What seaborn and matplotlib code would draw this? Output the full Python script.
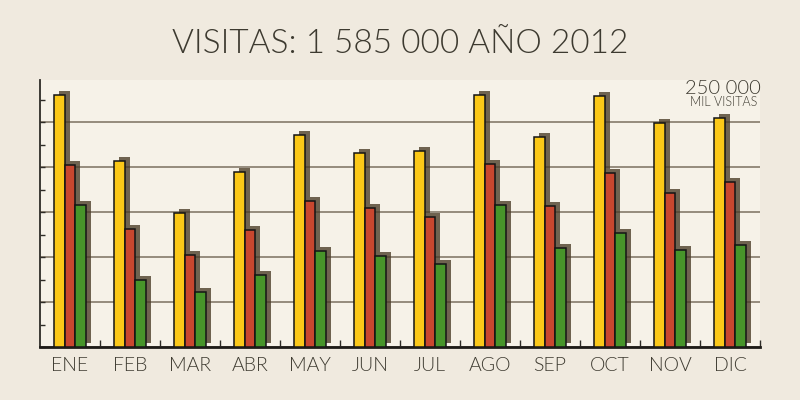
import numpy as np
import pandas as pd
import matplotlib.pyplot as plt
import matplotlib.patheffects as pe
from matplotlib.ticker import MultipleLocator, FixedLocator
import seaborn as sns

# datos (visitas por mes, 2012)
meses = ['ENE', 'FEB', 'MAR', 'ABR', 'MAY', 'JUN', 'JUL', 'AGO', 'SEP', 'OCT', 'NOV', 'DIC']
visitas = [280000, 206700, 149200, 194800, 235600, 215200, 218100, 280000, 233000, 278900, 248600, 254800]
visitantes = [202600, 131100, 102200, 130000, 161900, 154800, 144800, 203000, 156300, 193000, 171400, 183300]
nuevos = [158100, 74800, 61400, 80000, 106700, 101400, 91900, 157800, 109700, 126300, 107800, 113300]
series = ['visitas', 'visitantes', 'nuevos']
colores = ['#fbc818', '#c9472f', '#47952a']

df = pd.DataFrame({
    'mes': meses * 3,
    'serie': np.repeat(series, len(meses)),
    'valor': visitas + visitantes + nuevos,
})

sns.set_style('white')
plt.rcParams['font.family'] = ['Lato', 'DejaVu Sans']
plt.rcParams['font.weight'] = 300
texto = '#3d3a30'

fig = plt.figure(figsize=(8, 4), dpi=100, facecolor='#f0eadf')
ax = fig.add_axes([0.05, 0.1325, 0.9, 0.6675])
ax.set_facecolor('#f6f2e8')

sns.barplot(data=df, x='mes', y='valor', hue='serie', palette=colores,
            width=0.54, gap=0, edgecolor='#141414', linewidth=1.1,
            saturation=1, legend=False, ax=ax, zorder=3)

# sombra tipo relieve
for p in ax.patches:
    p.set_path_effects([pe.SimplePatchShadow(offset=(3.6, 2.9), shadow_rgbFace='#4d3f2a', alpha=0.8),
                        pe.Normal()])

# ejes y rejilla
ax.set_xlim(-0.5, 11.5)
ax.set_ylim(0, 296700)
ax.yaxis.set_major_locator(MultipleLocator(50000))
ax.yaxis.set_minor_locator(MultipleLocator(25000))
ax.xaxis.set_minor_locator(FixedLocator(np.arange(len(meses)) + 0.5))
ax.set_axisbelow(True)
ax.grid(axis='y', color='#857b6a', lw=1.2, zorder=0)
ax.grid(axis='x', visible=False)

ax.tick_params(axis='y', which='both', direction='in', length=3.5, width=1, color='#2e2c27', labelleft=False, left=True)
ax.tick_params(axis='x', which='major', length=0, pad=7, labelsize=14, labelcolor=texto)
ax.tick_params(axis='x', which='minor', direction='in', length=5, width=1, color='#2e2c27', bottom=True)
for lbl in ax.get_xticklabels():
    lbl.set_fontweight(300)
ax.set_xlabel('')
ax.set_ylabel('')

for s in ['top', 'right']:
    ax.spines[s].set_visible(False)
ax.spines['left'].set_color('#2e2c27')
ax.spines['left'].set_linewidth(1.3)
ax.spines['bottom'].set_color('#1e1c18')
ax.spines['bottom'].set_linewidth(2)

# textos
fig.text(0.5, 0.8675, 'VISITAS: 1 585 000 AÑO 2012', ha='center', va='baseline',
         fontsize=24, fontweight=300, color=texto)
fig.text(0.904, 0.7775, '250 000', ha='center', va='center', fontsize=14.5, fontweight=300, color=texto)
fig.text(0.904, 0.745, 'MIL VISITAS', ha='center', va='center', fontsize=9, fontweight=300, color=texto)

fig.savefig('out.png', dpi=100, facecolor=fig.get_facecolor())
plt.close()
